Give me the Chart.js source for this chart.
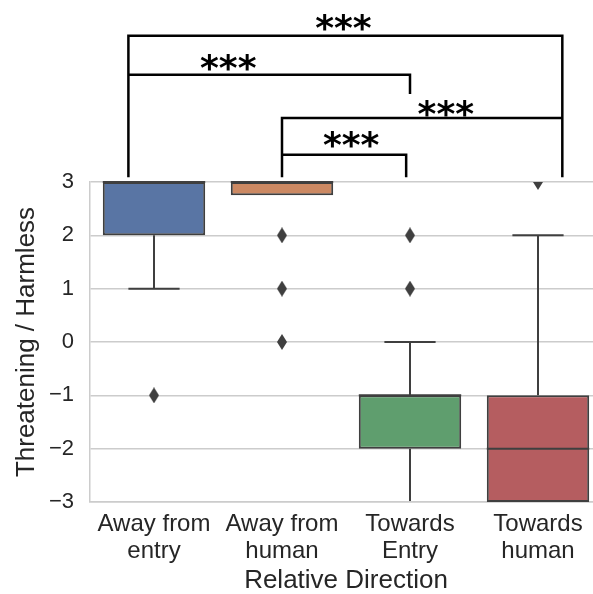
<!DOCTYPE html>
<html>
<head>
<meta charset="utf-8">
<script src="https://cdn.jsdelivr.net/npm/chart.js@4.4.0/dist/chart.umd.min.js"></script>
<style>
html, body { margin: 0; padding: 0; background: #fff; overflow: hidden; }
#wrap { width: 612px; height: 594px; }
</style>
</head>
<body>
<div id="wrap"><canvas id="myChart"></canvas></div>
<script>
// box plot data
var categories = ["Away from entry", "Away from human", "Towards Entry", "Towards human"];
var tickLines = [["Away from", "entry"], ["Away from", "human"], ["Towards", "Entry"], ["Towards", "human"]];
var q1 = [2, 2.75, -2, -3];
var q3 = [3, 3, -1, -1];
var medians = [3, 3, -1, -2];
var whiskerLow = [1, 2.75, -3, -3];
var whiskerHigh = [3, 3, 0, 2];
var outliers = [[-1], [2, 1, 0], [2, 1], [3]];
var yTicks = [-3, -2, -1, 0, 1, 2, 3];

var boxColors = ["#5975a4", "#cc8963", "#5f9e6e", "#b55d60"];
var edgeColor = "#3f3f3f";
var textColor = "#262626";
var fontFamily = "'Liberation Sans', Arial, sans-serif";

// significance brackets (x in category units, y in data units)
var brackets = [
    { from: -0.2, to: 3.19, top: 5.74, leftEnd: 3.09, rightEnd: 3.09, text: "***", textX: 1.48, textY: 5.99 },
    { from: -0.2, to: 2.0, top: 5.01, leftEnd: 5.01, rightEnd: 4.65, text: "***", textX: 0.58, textY: 5.25 },
    { from: 1.0, to: 3.19, top: 4.20, leftEnd: 3.09, rightEnd: 4.20, text: "***", textX: 2.28, textY: 4.37 },
    { from: 1.0, to: 1.97, top: 3.51, leftEnd: 3.51, rightEnd: 3.09, text: "***", textX: 1.54, textY: 3.80 }
];

// thin diamond marker like matplotlib "d"
var diamond = document.createElement("canvas");
diamond.width = 10;
diamond.height = 16;
var dctx = diamond.getContext("2d");
dctx.fillStyle = edgeColor;
dctx.beginPath();
dctx.moveTo(5, 0);
dctx.lineTo(10, 8);
dctx.lineTo(5, 16);
dctx.lineTo(0, 8);
dctx.closePath();
dctx.fill();

var outlierPoints = [];
outliers.forEach(function (list, i) {
    list.forEach(function (v) {
        outlierPoints.push({ x: categories[i], y: v });
    });
});

var whiskerPlugin = {
    id: "whiskers",
    afterDatasetsDraw: function (chart) {
        var c = chart.ctx;
        var x = chart.scales.x;
        var y = chart.scales.y;
        var area = chart.chartArea;
        var meta = chart.getDatasetMeta(0);
        c.save();
        c.beginPath();
        c.rect(area.left, area.top - 1, area.right - area.left, area.bottom - area.top);
        c.clip();
        c.strokeStyle = edgeColor;
        c.lineWidth = 2;
        categories.forEach(function (cat, i) {
            var cx = x.getPixelForValue(i);
            var w = meta.data[i].width;
            var yq1 = y.getPixelForValue(q1[i]);
            var yq3 = y.getPixelForValue(q3[i]);
            var ylo = y.getPixelForValue(whiskerLow[i]);
            var yhi = y.getPixelForValue(whiskerHigh[i]);
            c.beginPath();
            if (whiskerLow[i] < q1[i]) {
                c.moveTo(cx, yq1); c.lineTo(cx, ylo);
                c.moveTo(cx - w / 4, ylo); c.lineTo(cx + w / 4, ylo);
            }
            if (whiskerHigh[i] > q3[i]) {
                c.moveTo(cx, yq3); c.lineTo(cx, yhi);
                c.moveTo(cx - w / 4, yhi); c.lineTo(cx + w / 4, yhi);
            }
            var ym = y.getPixelForValue(medians[i]);
            c.moveTo(cx - w / 2, ym); c.lineTo(cx + w / 2, ym);
            c.stroke();
        });
        c.restore();
    }
};

var bracketPlugin = {
    id: "brackets",
    afterDraw: function (chart) {
        var c = chart.ctx;
        var x = chart.scales.x;
        var y = chart.scales.y;
        c.save();
        c.strokeStyle = "#000";
        c.lineWidth = 2.5;
        c.lineJoin = "miter";
        brackets.forEach(function (b) {
            c.beginPath();
            c.moveTo(x.getPixelForValue(b.from), y.getPixelForValue(b.leftEnd));
            c.lineTo(x.getPixelForValue(b.from), y.getPixelForValue(b.top));
            c.lineTo(x.getPixelForValue(b.to), y.getPixelForValue(b.top));
            c.lineTo(x.getPixelForValue(b.to), y.getPixelForValue(b.rightEnd));
            c.stroke();
        });
        c.fillStyle = "#000";
        c.font = "bold 36px 'DejaVu Sans', sans-serif";
        c.textAlign = "center";
        c.textBaseline = "alphabetic";
        brackets.forEach(function (b) {
            var m = c.measureText(b.text);
            var cy = y.getPixelForValue(b.textY);
            var base = cy + (m.actualBoundingBoxAscent - m.actualBoundingBoxDescent) / 2;
            c.fillText(b.text, x.getPixelForValue(b.textX), base);
        });
        c.restore();
    }
};

var ctx = document.getElementById("myChart").getContext("2d");
var myChart = new Chart(ctx, {
    type: "bar",
    data: {
        labels: categories,
        datasets: [
            {
                type: "bar",
                label: "IQR",
                data: categories.map(function (c, i) { return [q1[i], q3[i]]; }),
                backgroundColor: boxColors,
                borderColor: edgeColor,
                borderWidth: 2,
                borderSkipped: false,
                categoryPercentage: 0.8,
                barPercentage: 1,
                order: 2
            },
            {
                type: "scatter",
                label: "Outliers",
                data: outlierPoints,
                pointStyle: diamond,
                pointRadius: 6,
                clip: 0,
                order: 1
            }
        ]
    },
    options: {
        responsive: true,
        maintainAspectRatio: false,
        animation: false,
        layout: { padding: { top: 182, right: 10, left: 0, bottom: 0 } },
        plugins: {
            legend: { display: false },
            tooltip: { enabled: false }
        },
        scales: {
            x: {
                type: "category",
                offset: true,
                grid: { display: false, drawTicks: false },
                border: { display: true, color: "#cccccc", width: 1.5 },
                ticks: {
                    color: textColor,
                    font: { family: fontFamily, size: 24, lineHeight: 1.125 },
                    padding: 9,
                    maxRotation: 0,
                    autoSkip: false,
                    callback: function (value, index) {
                        return tickLines[index];
                    }
                },
                title: {
                    display: true,
                    text: "Relative Direction",
                    color: textColor,
                    font: { family: fontFamily, size: 26, lineHeight: 1 },
                    padding: { top: 0, bottom: 0 }
                },
                afterFit: function (scale) {
                    scale.height = 92;
                }
            },
            y: {
                type: "linear",
                min: -3,
                max: 3,
                afterBuildTicks: function (scale) {
                    scale.ticks = yTicks.map(function (v) { return { value: v }; });
                },
                grid: { color: "#cccccc", lineWidth: 1.5, drawTicks: false },
                border: { display: true, color: "#cccccc", width: 1.5 },
                ticks: {
                    color: textColor,
                    font: { family: fontFamily, size: 22 },
                    padding: 16,
                    callback: function (value) {
                        return value < 0 ? "\u2212" + Math.abs(value) : String(value);
                    }
                },
                title: {
                    display: true,
                    text: "Threatening / Harmless",
                    color: textColor,
                    font: { family: fontFamily, size: 26, lineHeight: 1 },
                    padding: { top: 14, bottom: 0 }
                },
                afterFit: function (scale) {
                    scale.width = 90;
                }
            }
        }
    },
    plugins: [whiskerPlugin, bracketPlugin]
});
</script>
</body>
</html>
